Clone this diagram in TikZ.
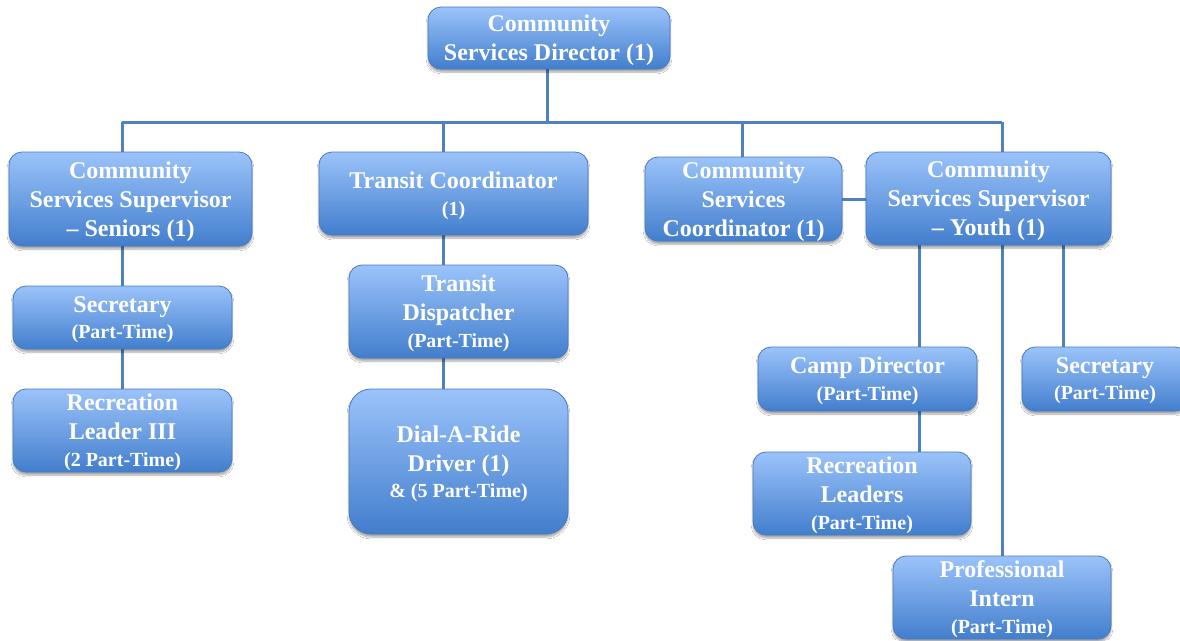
\documentclass[tikz,border=0pt]{standalone}
\usepackage{fontspec}
\setmainfont{Liberation Serif}
\usetikzlibrary{shadows.blur}
\definecolor{linkblue}{RGB}{79,129,189}
\definecolor{boxtop}{RGB}{155,195,250}
\definecolor{boxbot}{RGB}{66,126,205}
\definecolor{boxedge}{RGB}{72,122,192}
\newcommand\bigtxt{\fontsize{24}{29}\selectfont\bfseries}
\newcommand\smalltxt{\fontsize{20}{24}\selectfont\bfseries}
\pgfdeclarelayer{background}
\pgfsetlayers{background,main}
\begin{document}
\begin{tikzpicture}[x=1pt,y=-1pt,
  box/.style={rounded corners=13pt, draw=boxedge, line width=0.8pt,
    top color=boxtop, bottom color=boxbot, text=white, align=center,
    inner sep=0pt, font=\bigtxt, text depth=0pt,
    blur shadow={shadow xshift=0pt, shadow yshift=-3pt, shadow blur steps=6, shadow opacity=35}},
  link/.style={draw=linkblue, line width=3pt}]
\useasboundingbox (0,0) rectangle (1180,640);

% top level
\node[box, minimum width=242pt, minimum height=62pt] (dir) at (549,38) {Community\\Services Director (1)};

% second level
\node[box, minimum width=243pt, minimum height=94pt] (sen) at (130.5,199) {Community\\Services Supervisor\\– Seniors (1)};
\node[box, minimum width=269pt, minimum height=83pt] (tc) at (453.5,193.5) {Transit Coordinator\\[-2pt]{\smalltxt (1)}};
\node[box, minimum width=197pt, minimum height=84pt] (csc) at (743.5,199) {Community\\Services\\Coordinator (1)};
\node[box, minimum width=245pt, minimum height=93pt] (you) at (988.5,198.5) {Community\\Services Supervisor\\– Youth (1)};

% seniors branch
\node[box, minimum width=219pt, minimum height=63pt] (sec1) at (122.5,317.5) {Secretary\\[-3pt]{\smalltxt (Part-Time)}};
\node[box, minimum width=219pt, minimum height=83pt] (rl3) at (122.5,430.5) {Recreation\\Leader III\\[-2pt]{\smalltxt (2 Part-Time)}};

% transit branch
\node[box, minimum width=219pt, minimum height=93pt] (td) at (458.5,311.5) {Transit\\Dispatcher\\[-2pt]{\smalltxt (Part-Time)}};
\node[box, rounded corners=22pt, minimum width=219pt, minimum height=145pt] (dar) at (458.5,461.5) {Dial-A-Ride\\Driver (1)\\[-3pt]{\smalltxt \& (5 Part-Time)}};

% youth branch
\node[box, minimum width=219pt, minimum height=64pt] (camp) at (867.5,379) {Camp Director\\[-2pt]{\smalltxt (Part-Time)}};
\node[box, minimum width=218pt, minimum height=83pt] (rls) at (862,493.5) {Recreation\\Leaders\\[-2pt]{\smalltxt (Part-Time)}};
\node[box, minimum width=218pt, minimum height=83pt] (intern) at (1002,597.5) {Professional\\Intern\\[-2pt]{\smalltxt (Part-Time)}};
\node[box, minimum width=166pt, minimum height=64pt] (sec2) at (1105,379) {Secretary\\[-3pt]{\smalltxt (Part-Time)}};

% junction points of the connector lines
\coordinate (hub) at (547,122);
\coordinate (busL) at (122,122);
\coordinate (busT) at (443,122);
\coordinate (busC) at (742,122);
\coordinate (busR) at (1002,122);
\coordinate (yA) at (919,245);
\coordinate (yC) at (1063,245);

\begin{pgfonlayer}{background}
\fill[white] (0,0) rectangle (1180,640);
\draw[link] (hub |- dir.south) -- (hub);
\draw[link] (busL) -- (busR);
\draw[link] (busL) -- (busL |- sen.north);
\draw[link] (busT) -- (busT |- tc.north);
\draw[link] (busC) -- (busC |- csc.north);
\draw[link] (busR) -- (busR |- you.north);
\draw[link] (busL |- sen.south) -- (busL |- sec1.north);
\draw[link] (busL |- sec1.south) -- (busL |- rl3.north);
\draw[link] (busT |- tc.south) -- (busT |- td.north);
\draw[link] (busT |- td.south) -- (busT |- dar.north);
\draw[link] (csc.east) -- (csc.east -| you.west);
\draw[link] (yA |- you.south) -- (yA |- camp.north);
\draw[link] (yA |- camp.south) -- (yA |- rls.north);
\draw[link] (busR |- you.south) -- (busR |- intern.north);
\draw[link] (yC |- you.south) -- (yC |- sec2.north);
\end{pgfonlayer}
\end{tikzpicture}
\end{document}
